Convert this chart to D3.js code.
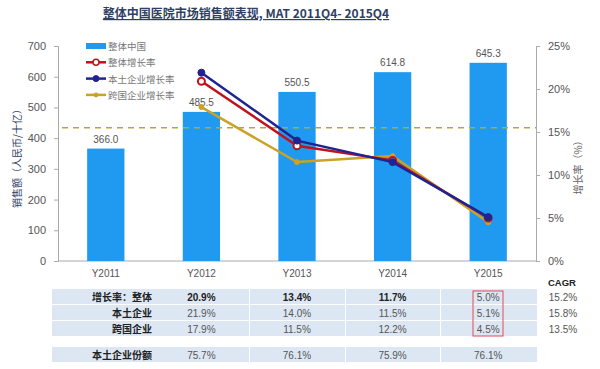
<!DOCTYPE html>
<html>
<head>
<meta charset="utf-8">
<script src="https://cdn.jsdelivr.net/npm/d3@7"></script>
<style>
  body { margin: 0; background: #fff; }
  svg { font-family: "Liberation Sans", Arial, "Noto Sans CJK SC", sans-serif; }
</style>
</head>
<body>
<svg width="600" height="369"></svg>
<script>
// data
const years = ["Y2011", "Y2012", "Y2013", "Y2014", "Y2015"];
const sales = [366.0, 485.5, 550.5, 614.8, 645.3];
const growthAll = [null, 20.9, 13.4, 11.7, 5.0];
const growthLocal = [null, 21.9, 14.0, 11.5, 5.1];
const growthIntl = [null, 17.9, 11.5, 12.2, 4.5];
const localShare = [null, 75.7, 76.1, 75.9, 76.1];
const cagr = [15.2, 15.8, 13.5];
const cagrLine = 15.5;
const leftTicks = [0, 100, 200, 300, 400, 500, 600, 700];
const rightTicks = [0, 5, 10, 15, 20, 25];

const svg = d3.select("svg");
const cjk = '"Noto Sans CJK SC", sans-serif';

const x = d3.scaleBand().domain(years).range([58, 536]).paddingInner(0.61).paddingOuter(0.305);
const yL = d3.scaleLinear().domain([0, 700]).range([261, 46]);
const yR = d3.scaleLinear().domain([0, 25]).range([261, 46]);
const cx = d => x(d) + x.bandwidth() / 2;

// title
svg.append("text")
    .attr("x", 246).attr("y", 18)
    .attr("text-anchor", "middle")
    .attr("font-size", 12).attr("font-weight", "bold")
    .attr("fill", "#2f3f66")
    .attr("text-decoration", "underline")
    .style("font-family", cjk)
    .text("整体中国医院市场销售额表现, MAT 2011Q4- 2015Q4");

// axes
const axL = svg.append("g").attr("transform", "translate(58,0)")
    .call(d3.axisLeft(yL).tickValues(leftTicks).tickSize(4).tickPadding(8));
const axR = svg.append("g").attr("transform", "translate(536,0)")
    .call(d3.axisRight(yR).tickValues(rightTicks).tickSize(4).tickPadding(8).tickFormat(d => d + "%"));
[axL, axR].forEach(g => {
    g.select(".domain").attr("stroke", "#aaa");
    g.selectAll(".tick line").attr("stroke", "#aaa");
    g.selectAll(".tick text").attr("fill", "#555").attr("font-size", 11);
});
svg.append("line").attr("x1", 58).attr("x2", 536).attr("y1", 261).attr("y2", 261).attr("stroke", "#aaa");

// axis titles
svg.append("text")
    .attr("transform", "translate(21,156) rotate(-90)")
    .attr("text-anchor", "middle").attr("font-size", 10).attr("fill", "#2f3f66")
    .style("font-family", cjk)
    .text("销售额（人民币/十亿）");
svg.append("text")
    .attr("transform", "translate(582,165) rotate(-90)")
    .attr("text-anchor", "middle").attr("font-size", 10).attr("fill", "#666")
    .style("font-family", cjk)
    .text("增长率（%）");

// bars
svg.selectAll(".bar").data(years).join("rect")
    .attr("class", "bar")
    .attr("x", d => x(d)).attr("width", x.bandwidth())
    .attr("y", (d, i) => yL(sales[i]))
    .attr("height", (d, i) => yL(0) - yL(sales[i]))
    .attr("fill", "#1f9af0");
svg.selectAll(".blabel").data(years).join("text")
    .attr("class", "blabel")
    .attr("x", cx).attr("y", (d, i) => yL(sales[i]) - 6)
    .attr("text-anchor", "middle").attr("font-size", 10).attr("fill", "#555")
    .text((d, i) => sales[i].toFixed(1));

// dashed CAGR line
svg.append("line")
    .attr("x1", 62).attr("x2", 536)
    .attr("y1", yR(cagrLine)).attr("y2", yR(cagrLine))
    .attr("stroke", "#b8a53a").attr("stroke-width", 1.5).attr("stroke-dasharray", "6,5");

// growth lines
const series = [
    { vals: growthIntl, color: "#c9a227", marker: "small" },
    { vals: growthAll, color: "#c0121c", marker: "open" },
    { vals: growthLocal, color: "#1f2490", marker: "dot" }
];
const line = d3.line().defined(d => d.v != null).x(d => cx(d.y)).y(d => yR(d.v));
series.forEach(s => {
    const pts = years.map((y, i) => ({ y, v: s.vals[i] })).filter(d => d.v != null);
    svg.append("path").datum(pts)
        .attr("d", line).attr("fill", "none")
        .attr("stroke", s.color).attr("stroke-width", 2.5);
    svg.selectAll(null).data(pts).join("circle")
        .attr("cx", d => cx(d.y)).attr("cy", d => yR(d.v))
        .attr("r", s.marker === "small" ? 2.5 : 3.5)
        .attr("fill", s.marker === "open" ? "#fff" : s.color)
        .attr("stroke", s.color).attr("stroke-width", s.marker === "open" ? 2 : 1);
});

// legend
const legend = [
    { label: "整体中国", color: "#1f9af0", type: "bar" },
    { label: "整体增长率", color: "#c0121c", type: "open" },
    { label: "本土企业增长率", color: "#1f2490", type: "dot" },
    { label: "跨国企业增长率", color: "#c9a227", type: "small" }
];
const lg = svg.append("g").attr("transform", "translate(86,46)");
legend.forEach((d, i) => {
    const g = lg.append("g").attr("transform", `translate(0,${i * 16.3})`);
    if (d.type === "bar") {
        g.append("rect").attr("x", 0).attr("y", -3).attr("width", 20).attr("height", 6).attr("fill", d.color);
    } else {
        g.append("line").attr("x1", 0).attr("x2", 20).attr("stroke", d.color).attr("stroke-width", 2.5);
        g.append("circle").attr("cx", 10).attr("r", d.type === "small" ? 2 : 3)
            .attr("fill", d.type === "open" ? "#fff" : d.color)
            .attr("stroke", d.color).attr("stroke-width", d.type === "open" ? 1.5 : 1);
    }
    g.append("text").attr("x", 22).attr("y", 4)
        .attr("font-size", 9.5).attr("fill", "#777")
        .style("font-family", cjk).text(d.label);
});

// category labels
svg.selectAll(".xlabel").data(years).join("text")
    .attr("class", "xlabel")
    .attr("x", cx).attr("y", 277)
    .attr("text-anchor", "middle").attr("font-size", 10).attr("fill", "#555")
    .text(d => d);

// table
const rows = [
    { label: "增长率：整体", vals: growthAll, y: 289, bold: true, cagr: cagr[0] },
    { label: "本土企业", vals: growthLocal, y: 305, bold: false, cagr: cagr[1] },
    { label: "跨国企业", vals: growthIntl, y: 321, bold: false, cagr: cagr[2] },
    { label: "本土企业份额", vals: localShare, y: 347, bold: false, cagr: null }
];
const bounds = [52, 249, 345, 440, 537];
rows.forEach(r => {
    for (let k = 0; k < bounds.length - 1; k++) {
        svg.append("rect")
            .attr("x", bounds[k] + (k ? 1 : 0)).attr("y", r.y)
            .attr("width", bounds[k + 1] - bounds[k] - (k ? 1 : 0)).attr("height", 15)
            .attr("fill", "#dde7f3");
    }
    svg.append("text").attr("x", 152).attr("y", r.y + 11.5)
        .attr("text-anchor", "end").attr("font-size", 10).attr("font-weight", "bold")
        .attr("fill", "#222").style("font-family", cjk).text(r.label);
    years.forEach((y, i) => {
        if (r.vals[i] == null) return;
        svg.append("text").attr("x", cx(y)).attr("y", r.y + 11.5)
            .attr("text-anchor", "middle").attr("font-size", 10)
            .attr("font-weight", r.bold && i < 4 ? "bold" : "normal")
            .attr("fill", r.bold && i < 4 ? "#222" : "#555")
            .text(r.vals[i].toFixed(1) + "%");
    });
    if (r.cagr != null) {
        svg.append("text").attr("x", 563).attr("y", r.y + 11.5)
            .attr("text-anchor", "middle").attr("font-size", 10).attr("fill", "#555")
            .text(r.cagr.toFixed(1) + "%");
    }
});
svg.append("text").attr("x", 562).attr("y", 286)
    .attr("text-anchor", "middle").attr("font-size", 9.5).attr("font-weight", "bold")
    .attr("fill", "#222").text("CAGR");

// highlight box
svg.append("rect")
    .attr("x", 473).attr("y", 291).attr("width", 30).attr("height", 45)
    .attr("fill", "none").attr("stroke", "#e04a5a").attr("stroke-width", 1);
</script>
</body>
</html>
